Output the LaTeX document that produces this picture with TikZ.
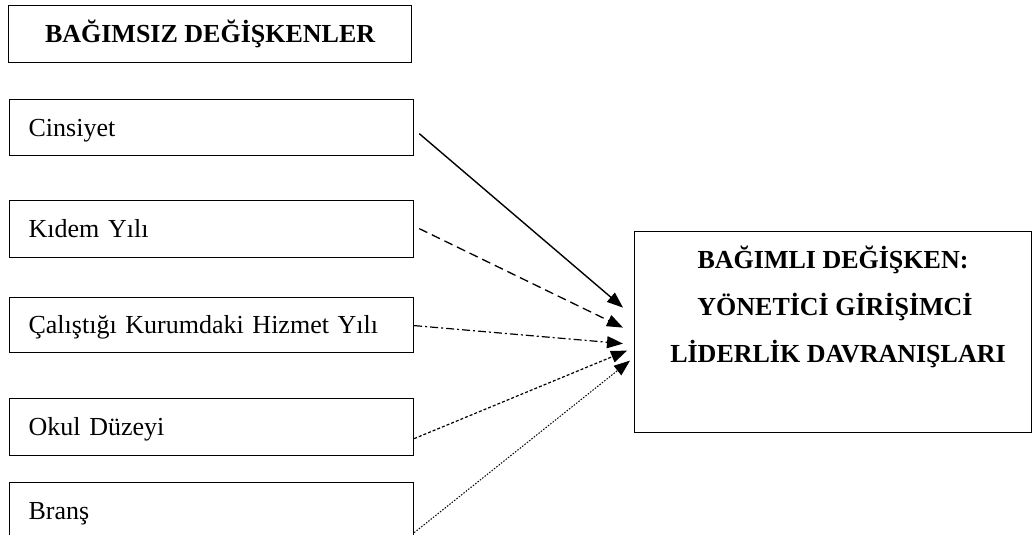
\documentclass[tikz,border=0pt]{standalone}
\usepackage{fontspec}
\setmainfont{Liberation Serif}
\usetikzlibrary{arrows.meta}
\begin{document}
\begin{tikzpicture}[x=1pt,y=-1pt,
  box/.style={draw, line width=1.2pt, rectangle, inner sep=0pt},
  txt/.style={font=\fontsize{26}{31}\selectfont},
  btxt/.style={font=\bfseries\fontsize{26}{31}\selectfont},
  varbox/.style={box, txt, anchor=north west, minimum width=404pt, minimum height=56pt,
    text width=366pt, align=left, inner xsep=19pt, text height=17pt, text depth=0pt},
  conn/.style={-{Triangle[length=16pt,width=12pt]}, line width=1.3pt},
]
\useasboundingbox (0,0) rectangle (1033,535);
\clip (0,0) rectangle (1033,535);

\node[box, btxt, anchor=north west, minimum width=403pt, minimum height=57pt,
  text height=17pt, text depth=0pt] (hdr) at (8,5) {BAĞIMSIZ DEĞİŞKENLER};

\node[varbox] (c1) at (9,99) {Cinsiyet};
\node[varbox, minimum height=57pt] (c2) at (9,200) {Kıdem Yılı};
\node[varbox, minimum height=55pt] (c3) at (9,297) {Çalıştığı Kurumdaki Hizmet Yılı};
\node[varbox, minimum height=57pt] (c4) at (9,398) {Okul Düzeyi};
\node[varbox] (c5) at (9,482) {Branş};

\node[box, anchor=north west, minimum width=397pt, minimum height=201pt] (dv) at (634,231) {};
\node[btxt, anchor=base, inner sep=0pt] (dv1) at (833,268) {BAĞIMLI DEĞİŞKEN:};
\node[btxt, anchor=base, inner sep=0pt] (dv2) at (835,315) {YÖNETİCİ GİRİŞİMCİ};
\node[btxt, anchor=base, inner sep=0pt] (dv3) at (838,362) {LİDERLİK DAVRANIŞLARI};

\draw[conn, line width=1.4pt] ([xshift=5pt,yshift=-6pt]c1.east) -- ([xshift=-11pt,yshift=24.5pt]dv.west);
\draw[conn, dash pattern=on 9pt off 5pt] ([xshift=5pt,yshift=0.5pt]c2.east) -- ([xshift=-11pt,yshift=4.5pt]dv.west);
\draw[conn, line width=1.2pt, dash pattern=on 8pt off 3pt on 2pt off 3pt] ([yshift=-0.5pt]c3.east) -- ([xshift=-11pt,yshift=-11.5pt]dv.west);
\draw[conn, line width=1.2pt, dash pattern=on 3pt off 2pt] ([yshift=-11.5pt]c4.east) -- ([xshift=-7pt,yshift=-18.5pt]dv.west);
\draw[conn, line width=1pt, dash pattern=on 1.5pt off 1.5pt] ([yshift=-22pt]c5.east) -- ([xshift=-4pt,yshift=-28.5pt]dv.west);
\end{tikzpicture}
\end{document}
